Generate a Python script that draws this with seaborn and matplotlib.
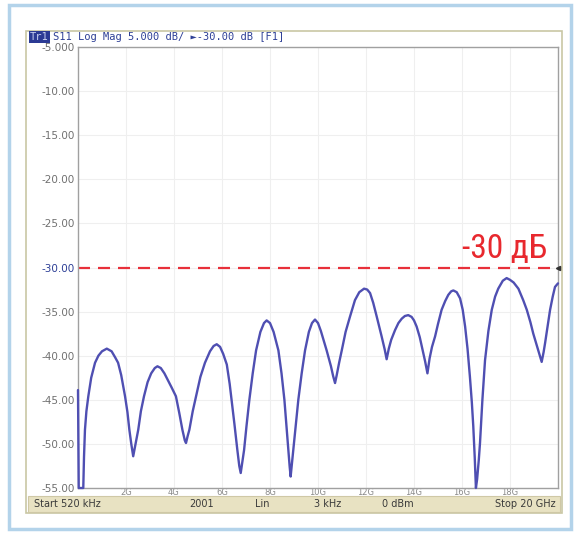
import matplotlib
matplotlib.use("Agg")
import matplotlib.pyplot as plt
from matplotlib.patches import Rectangle
from matplotlib import font_manager
import seaborn as sns
import pandas as pd

# S11 trace (GHz, dB)
freq_ghz = [
    0.0, 0.03, 0.22, 0.25, 0.29, 0.35, 0.43, 0.55, 0.71, 0.85, 1.0, 1.2, 1.4, 1.55, 1.67, 1.8,
    1.96, 2.06, 2.14, 2.22, 2.30, 2.40, 2.51, 2.62, 2.75, 2.9, 3.05, 3.2, 3.31, 3.45, 3.6, 3.75,
    3.9, 4.08, 4.22, 4.35, 4.45, 4.50, 4.57, 4.64, 4.78, 4.92, 5.1, 5.29, 5.5, 5.65, 5.78, 5.92,
    6.05, 6.2, 6.32, 6.40, 6.52, 6.64, 6.72, 6.78, 6.85, 6.92, 7.02, 7.14, 7.28, 7.42, 7.6, 7.75,
    7.86, 8.0, 8.15, 8.35, 8.48, 8.6, 8.68, 8.76, 8.82, 8.86, 8.92, 8.97, 9.07, 9.18, 9.32, 9.46,
    9.62, 9.75, 9.875, 10.0, 10.12, 10.25, 10.36, 10.46, 10.54, 10.63, 10.71, 10.78, 10.88, 10.99,
    11.15, 11.33, 11.54, 11.72, 11.92, 12.05, 12.17, 12.3, 12.45, 12.65, 12.78, 12.86, 12.95, 13.05,
    13.21, 13.35, 13.49, 13.62, 13.76, 13.9, 14.0, 14.11, 14.24, 14.36, 14.46, 14.56, 14.65, 14.75,
    14.88, 15.0, 15.15, 15.3, 15.43, 15.55, 15.64, 15.78, 15.92, 16.03, 16.13, 16.23, 16.33, 16.41,
    16.47, 16.53, 16.58, 16.63, 16.7, 16.75, 16.85, 16.96, 17.1, 17.24, 17.38, 17.51, 17.7, 17.86,
    18.0, 18.15, 18.35, 18.55, 18.70, 18.85, 18.97, 19.08, 19.18, 19.32, 19.4, 19.46, 19.57, 19.67,
    19.78, 19.875, 20.0,
]
s11_db = [
    -43.9, -55.0, -55.0, -51.5, -48.4, -46.3, -44.6, -42.5, -40.8, -40.0, -39.5, -39.2, -39.5, -40.2, -40.8, -42.2,
    -44.6, -46.4, -48.4, -50.0, -51.4, -50.0, -48.4, -46.3, -44.6, -43.0, -42.0, -41.4, -41.2, -41.4, -42.0, -42.8,
    -43.6, -44.6, -46.5, -48.4, -49.6, -49.9, -49.1, -48.4, -46.3, -44.6, -42.4, -40.8, -39.5, -38.9, -38.7, -39.0,
    -39.8, -41.0, -43.2, -45.0, -47.8, -50.7, -52.5, -53.3, -52.0, -50.7, -48.0, -45.0, -42.0, -39.4, -37.3, -36.3,
    -36.0, -36.3, -37.3, -39.4, -42.0, -45.0, -47.8, -50.7, -52.6, -53.7, -52.0, -50.7, -48.0, -45.0, -42.0, -39.4,
    -37.3, -36.3, -35.9, -36.3, -37.2, -38.4, -39.4, -40.4, -41.2, -42.3, -43.1, -42.2, -40.8, -39.4,
    -37.3, -35.6, -33.7, -32.8, -32.4, -32.5, -32.9, -34.0, -35.6, -37.8, -39.3, -40.4, -39.2, -38.2,
    -37.1, -36.3, -35.8, -35.5, -35.4, -35.6, -36.0, -36.7, -37.9, -39.4, -40.6, -42.0, -40.3, -39.0,
    -37.8, -36.4, -34.8, -33.8, -33.1, -32.7, -32.6, -32.8, -33.5, -34.8, -36.7, -39.2, -42.4, -45.3,
    -48.0, -51.5, -55.0, -54.0, -51.8, -49.9, -45.0, -40.5, -37.2, -34.8, -33.3, -32.4, -31.5, -31.2,
    -31.4, -31.7, -32.4, -33.7, -34.8, -36.2, -37.5, -38.5, -39.4, -40.7, -39.6, -38.6, -36.6, -34.8,
    -33.3, -32.2, -31.8,
]

y_ticks = [-5, -10, -15, -20, -25, -30, -35, -40, -45, -50, -55]
y_tick_labels = ["-5.000", "-10.00", "-15.00", "-20.00", "-25.00", "-30.00",
                 "-35.00", "-40.00", "-45.00", "-50.00", "-55.00"]
x_ticks = [2, 4, 6, 8, 10, 12, 14, 16, 18]
x_tick_labels = ["2G", "4G", "6G", "8G", "10G", "12G", "14G", "16G", "18G"]
limit_db = -30
limit_label = "-30 дБ"
trace_title = "S11 Log Mag 5.000 dB/ ►-30.00 dB [F1]"
status_items = ["Start 520 kHz", "2001", "Lin", "3 kHz", "0 dBm", "Stop 20 GHz"]
status_x = [34, 189, 255, 314, 382, 556]

sns.set_style("white")
plt.rcParams['font.family'] = ['DejaVu Sans']

W, H = 576, 535
fig = plt.figure(figsize=(W / 100, H / 100), dpi=100)
fig.patch.set_facecolor("white")


def fx(x):
    return x / W


def fy(y):
    return 1 - y / H


def box(x0, y0, x1, y1, **kw):
    fig.patches.append(Rectangle((fx(x0), fy(y1)), (x1 - x0) / W, (y1 - y0) / H,
                                 transform=fig.transFigure, zorder=-10, **kw))


# narrow font for the -30 dB label, if one is around
names = {f.name for f in font_manager.fontManager.ttflist}
narrow = [n for n in ["Liberation Sans Narrow", "Roboto Condensed", "Open Sans Condensed",
                      "DejaVu Sans Condensed"] if n in names]
condensed_dejavu = any(f.name == "DejaVu Sans" and f.stretch in ("condensed", 75)
                       for f in font_manager.fontManager.ttflist)
if narrow:
    label_font = dict(family=[narrow[0], "DejaVu Sans"], fontsize=24)
elif condensed_dejavu:
    label_font = dict(family=["DejaVu Sans"], fontstretch="condensed", fontsize=23)
else:
    label_font = dict(family=["DejaVu Sans"], fontsize=19)

# window frame, panel, status bar
box(9, 5, 571, 529, fill=False, edgecolor="#b3d3ea", lw=2.5)
box(26, 31, 562, 513, facecolor="white", edgecolor="#c9c7a4", lw=1.2)
box(28, 496, 560, 512, facecolor="#e8e2c2", edgecolor="#cfc8a6", lw=0.8)

ax = fig.add_axes([fx(78), fy(488), (558 - 78) / W, (488 - 47) / H])
df = pd.DataFrame({"freq": freq_ghz, "s11": s11_db})
sns.lineplot(data=df, x="freq", y="s11", ax=ax, color="#4f4fb2", lw=1.7, clip_on=False, zorder=3)

ax.axhline(limit_db, color="#e8303a", lw=1.6, ls=(0, (5.4, 3.6)), zorder=2)
ax.plot([20], [limit_db], marker="<", ms=3, color="#333333", clip_on=False, zorder=4)
ax.text(19.55, -28.9, limit_label, color="#e8282e", ha="right", va="baseline", **label_font)

ax.set_xlim(0, 20)
ax.set_ylim(-55, -5)
ax.set_yticks(y_ticks)
ax.set_yticklabels(y_tick_labels, fontsize=7.5, color="#707070")
ax.get_yticklabels()[5].set_color("#2d3f96")
ax.set_xticks(x_ticks)
ax.set_xticklabels(x_tick_labels, fontsize=6, color="#8a8a8a")
ax.tick_params(axis="both", length=0, pad=2)
ax.tick_params(axis="x", pad=0)
ax.set_xlabel("")
ax.set_ylabel("")
ax.grid(True, color="#efefef", lw=0.8)
for s in ax.spines.values():
    s.set_color("#a0a0a0")
    s.set_linewidth(1.0)

# trace title line
fig.text(fx(30), fy(37), "Tr1", fontsize=7.5, color="#c8d0f0", va="center", family="DejaVu Sans Mono",
         bbox=dict(facecolor="#2b3a94", edgecolor="none", pad=0.6))
fig.text(fx(53), fy(37), trace_title, fontsize=7.5, color="#2d3f96", va="center",
         family=["DejaVu Sans Mono", "DejaVu Sans"])

for i, (label, x) in enumerate(zip(status_items, status_x)):
    fig.text(fx(x), fy(504), label, fontsize=7, color="#3a3a3a", va="center",
             ha="right" if i == len(status_items) - 1 else "left")

fig.savefig("out.png", dpi=100)
